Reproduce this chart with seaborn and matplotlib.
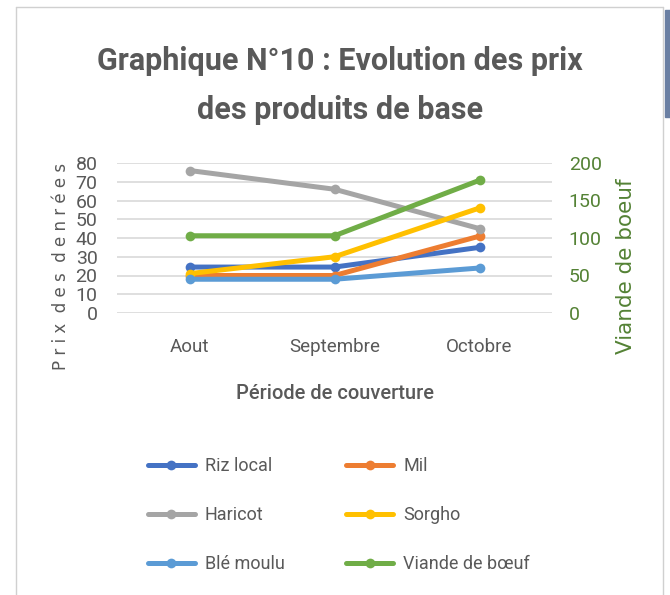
import matplotlib
matplotlib.use("Agg")
import matplotlib.pyplot as plt
import seaborn as sns
import pandas as pd
from matplotlib.lines import Line2D
from matplotlib.patches import Rectangle

sns.set_theme(style="white")
FONT = ["Roboto", "DejaVu Sans"]
plt.rcParams["font.family"] = FONT

# ---- data ----
months = ["Aout", "Septembre", "Octobre"]
riz_local = [24.5, 24.5, 35]
mil = [20, 20, 41]
haricot = [76, 66, 45]
sorgho = [21, 30, 56]
ble_moulu = [18, 18, 24]
viande_boeuf = [103, 103, 177]

primary_names = ["Riz local", "Mil", "Haricot", "Sorgho", "Blé moulu"]
primary_values = [riz_local, mil, haricot, sorgho, ble_moulu]
colors = {"Riz local": "#4472C4", "Mil": "#ED7D31", "Haricot": "#A5A5A5",
          "Sorgho": "#FFC000", "Blé moulu": "#5B9BD5", "Viande de bœuf": "#70AD47"}

rows = []
for name, vals in zip(primary_names, primary_values):
    for i, (m, v) in enumerate(zip(months, vals)):
        rows.append({"pos": i, "mois": m, "produit": name, "prix": v})
df = pd.DataFrame(rows)
df_v = pd.DataFrame({"pos": range(len(months)), "mois": months,
                     "produit": "Viande de bœuf", "prix": viande_boeuf})

W, H = 670, 595
fig = plt.figure(figsize=(W / 100, H / 100), dpi=100)
fig.patch.set_facecolor("white")

ax = fig.add_axes([117 / W, 1 - 313 / H, (552 - 117) / W, (313 - 163) / H])
ax2 = ax.twinx()

lw = 3.6
ms = 7
sns.lineplot(data=df, x="pos", y="prix", hue="produit", hue_order=primary_names,
             palette=colors, marker="o", markersize=ms, markeredgewidth=0,
             linewidth=lw, ax=ax, legend=False, estimator=None, sort=False)
sns.lineplot(data=df_v, x="pos", y="prix", color=colors["Viande de bœuf"],
             marker="o", markersize=ms, markeredgewidth=0, linewidth=lw,
             ax=ax2, legend=False, estimator=None, sort=False)

ax.set_xlim(-0.5, len(months) - 0.5)
ax.set_ylim(0, 80)
ax.set_yticks(range(0, 81, 10))
ax2.set_ylim(0, 200)
ax2.set_yticks(range(0, 201, 50))
ax.set_xticks(range(len(months)))
ax.set_xticklabels(months)

grid_c = "#D9D9D9"
for y in range(0, 81, 10):
    ax.axhline(y, color=grid_c, lw=1.2, zorder=0)
for a in (ax, ax2):
    for s in a.spines.values():
        s.set_visible(False)
    a.tick_params(length=0)

txt_c = "#595959"
green = "#548235"
ax.tick_params(axis="y", labelsize=14, labelcolor=txt_c, pad=14)
ax.tick_params(axis="x", labelsize=13.5, labelcolor=txt_c, pad=18)
ax2.tick_params(axis="y", labelsize=14, labelcolor=green, pad=12)

ax.set_xlabel("Période de couverture", fontsize=14.5, color=txt_c,
              fontweight="medium", labelpad=20)
ax.set_ylabel("P r i x  d e s  d e n r é e s", fontsize=12, color=txt_c,
              family=["DejaVu Sans"])
ax2.set_ylabel("Viande de boeuf", fontsize=15.5, color=green,
               family=["DejaVu Sans"])
ax.yaxis.set_label_coords(-0.108, 0.31)
ax2.yaxis.set_label_coords(1.148, 0.31)

fig.text(340 / W, 1 - 61 / H, "Graphique N°10 : Evolution des prix",
         ha="center", va="center", fontsize=22, fontweight="bold", color=txt_c)
fig.text(340 / W, 1 - 110 / H, "des produits de base",
         ha="center", va="center", fontsize=22, fontweight="bold", color=txt_c)

order = ["Riz local", "Haricot", "Blé moulu", "Mil", "Sorgho", "Viande de bœuf"]
handles = [Line2D([], [], color=colors[n], lw=lw, marker="o", markersize=ms,
                  markeredgewidth=0) for n in order]
fig.legend(handles, order, loc="upper left",
           bbox_to_anchor=(148 / W, 1 - 457 / H), ncol=2, frameon=False,
           fontsize=13, labelcolor=txt_c, handlelength=2.6, handletextpad=0.55,
           columnspacing=3.4, labelspacing=1.72, borderpad=0, borderaxespad=0)

# chart frame
frame_c = "#D0D0D0"
fig.add_artist(Line2D([16 / W, 16 / W], [0, 1 - 7 / H], color=frame_c, lw=1,
                      transform=fig.transFigure))
fig.add_artist(Line2D([16 / W, 663 / W], [1 - 7 / H, 1 - 7 / H], color=frame_c,
                      lw=1, transform=fig.transFigure))
fig.add_artist(Line2D([663 / W, 663 / W], [0, 1 - 7 / H], color=frame_c, lw=1,
                      transform=fig.transFigure))
fig.add_artist(Rectangle((665 / W, 1 - 117 / H), 6 / W, 107 / H,
                         color="#6A7FA3", transform=fig.transFigure))

fig.savefig("out.png", dpi=100)
